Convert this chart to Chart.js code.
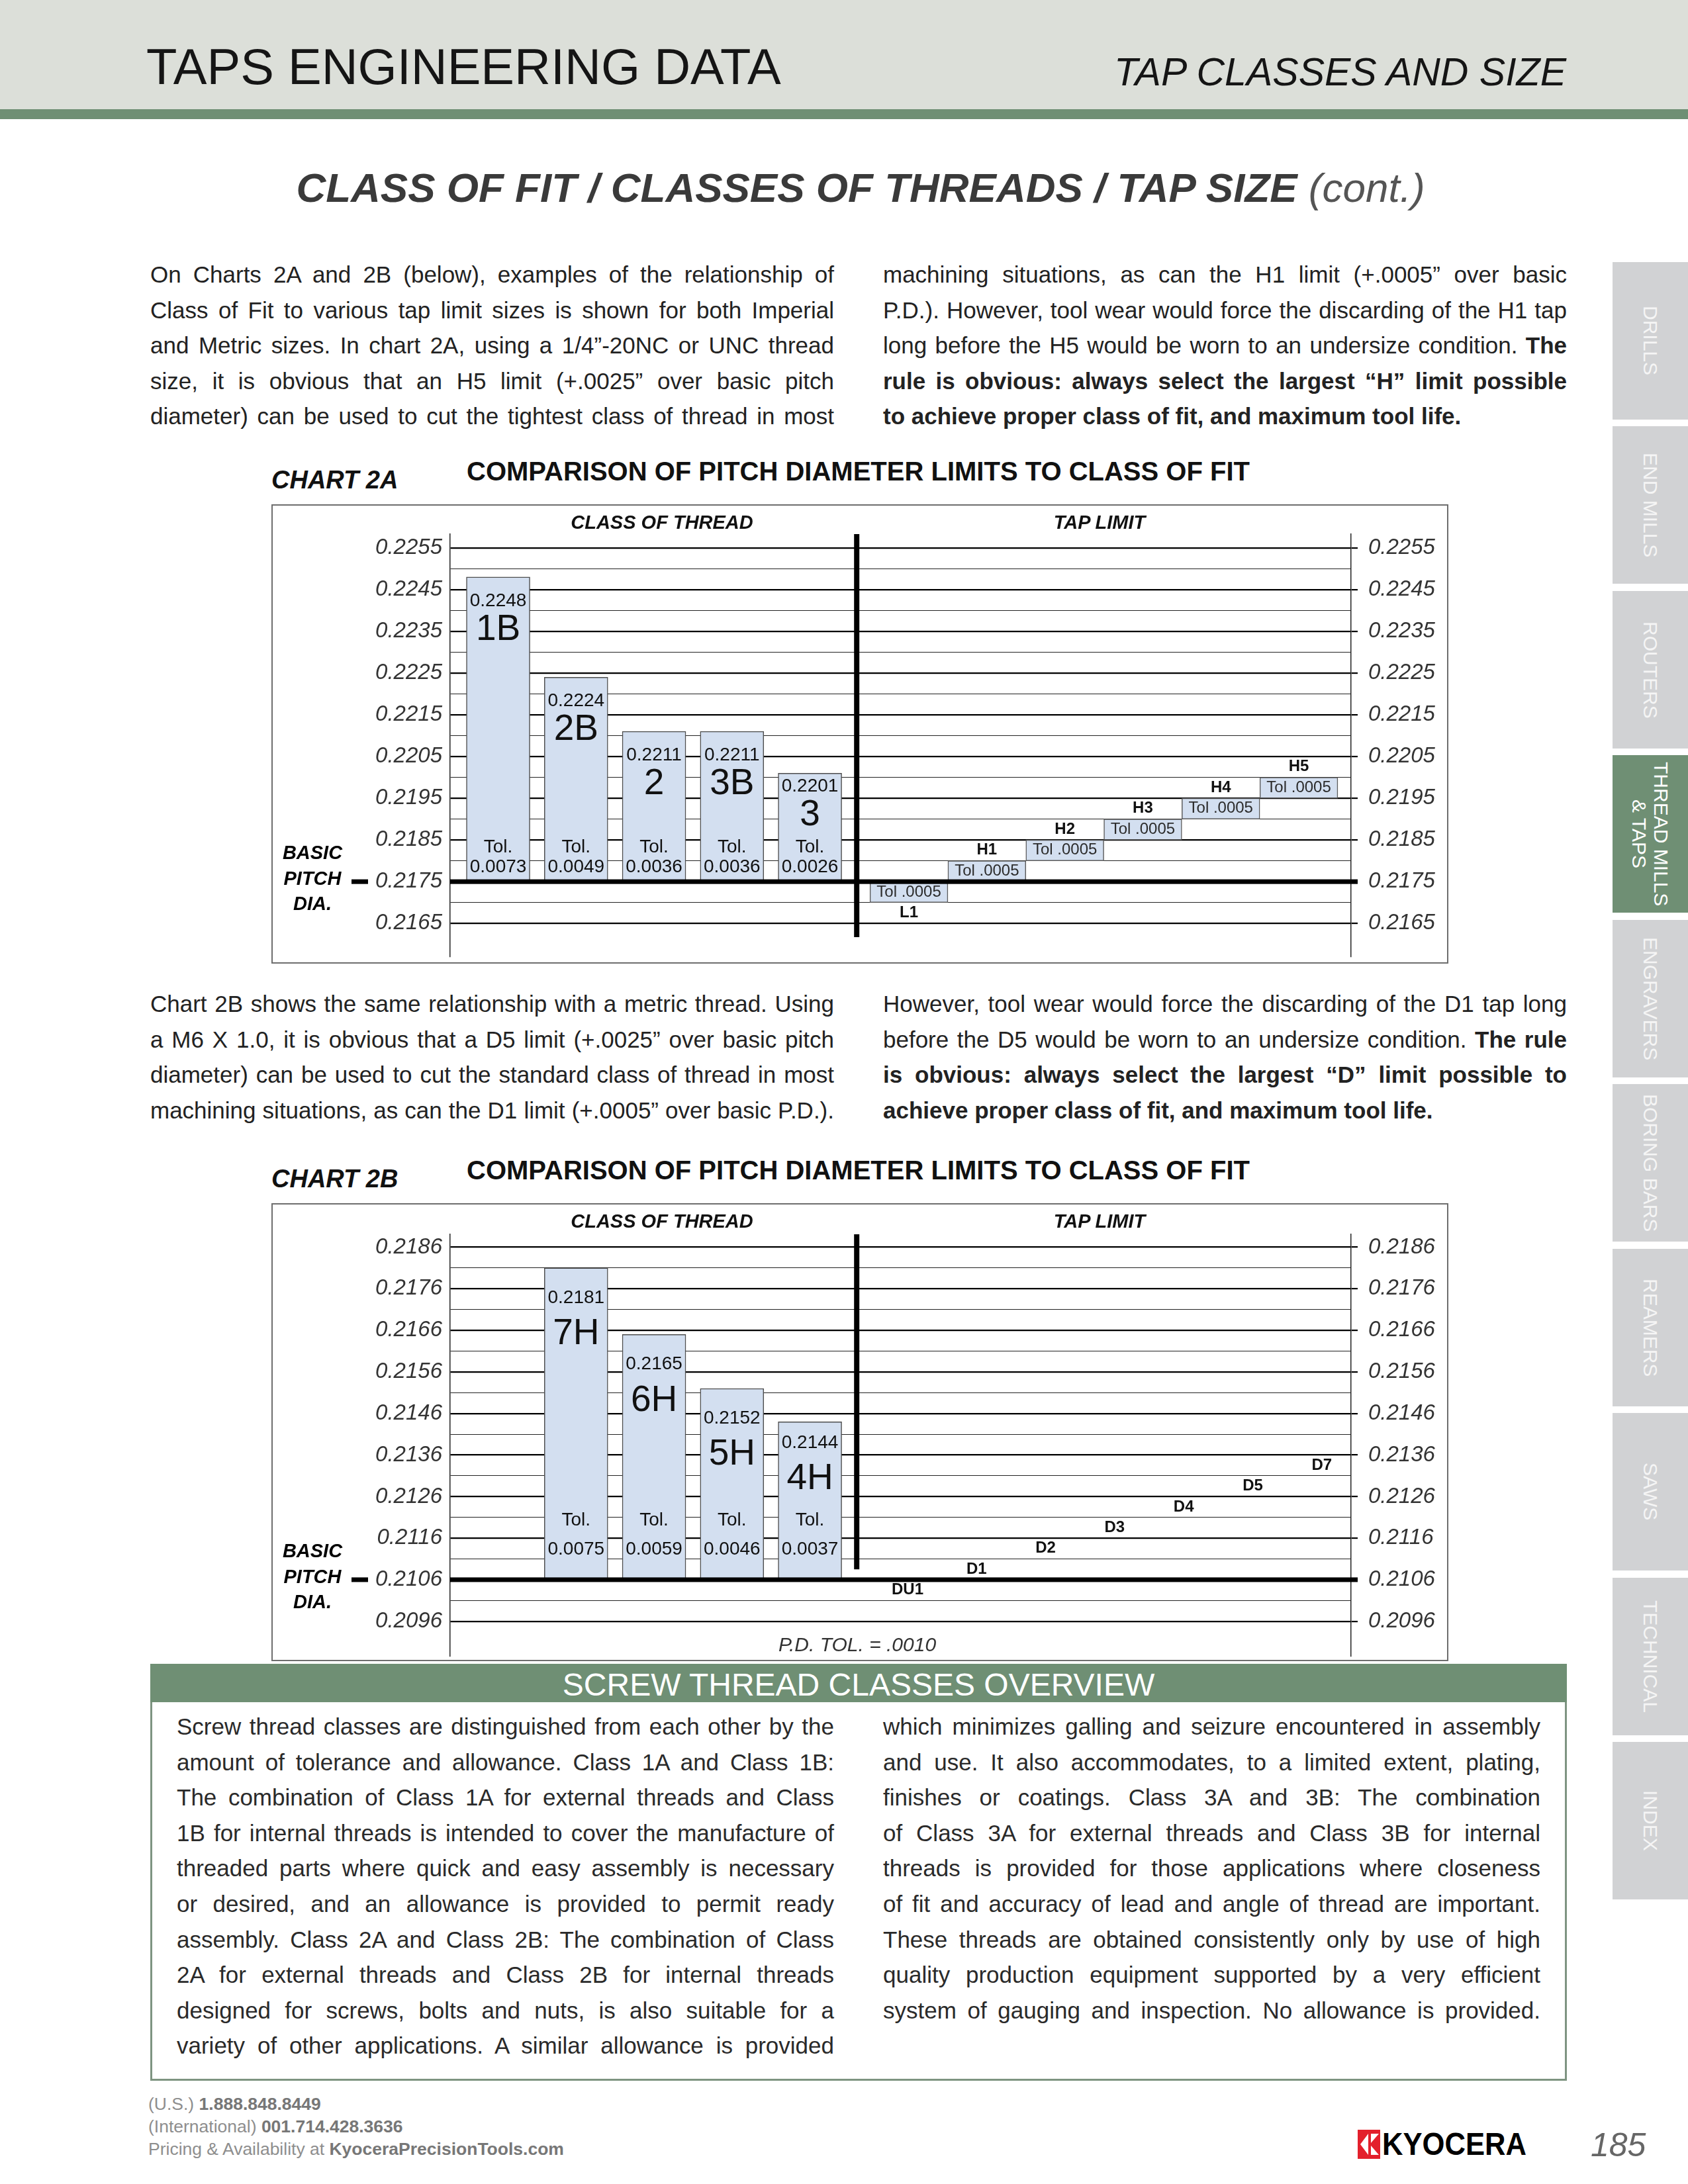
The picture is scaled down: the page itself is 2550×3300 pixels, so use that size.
<!DOCTYPE html>
<html>
<head>
<meta charset="utf-8">
<title>Taps Engineering Data - Tap Classes and Size</title>
<script src="https://cdn.jsdelivr.net/npm/chart.js@4.4.1/dist/chart.umd.min.js"></script>
<style>
  html, body { margin: 0; padding: 0; }
  body { position: relative; width: 2550px; height: 3300px; overflow: hidden; background: #fff;
         font-family: "Liberation Sans", Arial, sans-serif; color: #222; }
  .abs { position: absolute; line-height: 1; white-space: nowrap; }
  .col { position: absolute; width: 1033px; font-size: 35px; line-height: 53.6px; color: #222; }
  .col div { white-space: nowrap; }
  .ov { width: 993px; color: #2a2a2a; }
  .tab { position: absolute; left: 2436px; width: 114px; height: 238px; background: #d1d2d4; color: #f5f5f5;
         display: flex; align-items: center; justify-content: center; writing-mode: vertical-rl;
         font-size: 30px; line-height: 33px; text-align: center; }
  .tab.on { background: #6f8f74; color: #fff; }
  .cbox { position: absolute; box-sizing: border-box; border: 2px solid #6e6e6e; }
  .ctitle { font-size: 38px; font-weight: bold; font-style: italic; color: #111; }
  .chead { font-size: 40px; font-weight: bold; color: #111; }
  .side { width: 400px; text-align: center; font-size: 29px; font-weight: bold; font-style: italic; color: #111; }
  .foot { font-size: 26.5px; color: #8e8e8e; }
  .foot b { color: #777; }
  canvas { position: absolute; }
</style>
</head>
<body>

<!-- page header -->
<div class="abs" style="left:0;top:0;width:2550px;height:165px;background:#dcdfd9"></div>
<div class="abs" style="left:0;top:165px;width:2550px;height:15px;background:#6f8f74"></div>
<div class="abs" style="left:221px;top:63px;font-size:76px;color:#151515">TAPS ENGINEERING DATA</div>
<div class="abs" style="right:184px;top:80px;font-size:59px;font-style:italic;color:#151515">TAP CLASSES AND SIZE</div>
<div class="abs" style="left:300px;width:2000px;text-align:center;top:253px;font-size:62px;font-style:italic;font-weight:bold;color:#3a3a3a">CLASS OF FIT / CLASSES OF THREADS / TAP SIZE <span style="font-weight:normal;color:#555">(cont.)</span></div>

<!-- intro paragraph -->
<div class="col" style="left:227px;top:388px">
  <div class="jl"><span>On Charts 2A and 2B (below), examples of the relationship of</span></div>
  <div class="jl"><span>Class of Fit to various tap limit sizes is shown for both Imperial</span></div>
  <div class="jl"><span>and Metric sizes. In chart 2A, using a 1/4”-20NC or UNC thread</span></div>
  <div class="jl"><span>size, it is obvious that an H5 limit (+.0025” over basic pitch</span></div>
  <div class="jl"><span>diameter) can be used to cut the tightest class of thread in most</span></div>
</div>
<div class="col" style="left:1334px;top:388px">
  <div class="jl"><span>machining situations, as can the H1 limit (+.0005” over basic</span></div>
  <div class="jl"><span>P.D.). However, tool wear would force the discarding of the H1 tap</span></div>
  <div class="jl"><span>long before the H5 would be worn to an undersize condition. <b>The</b></span></div>
  <div class="jl"><span><b>rule is obvious: always select the largest “H” limit possible</b></span></div>
  <div><span><b>to achieve proper class of fit, and maximum tool life.</b></span></div>
</div>

<!-- chart 2A -->
<div class="abs ctitle" style="left:410px;top:706px">CHART 2A</div>
<div class="abs chead" style="left:705px;top:692px">COMPARISON OF PITCH DIAMETER LIMITS TO CLASS OF FIT</div>
<div class="cbox" style="left:410px;top:762px;width:1778px;height:694px"></div>
<canvas id="chart2a" width="1778" height="694" style="left:410px;top:762px"></canvas>
<div class="abs side" style="left:800px;top:775px">CLASS OF THREAD</div>
<div class="abs side" style="left:1461px;top:775px">TAP LIMIT</div>

<!-- second paragraph -->
<div class="col" style="left:227px;top:1490px">
  <div class="jl"><span>Chart 2B shows the same relationship with a metric thread. Using</span></div>
  <div class="jl"><span>a M6 X 1.0, it is obvious that a D5 limit (+.0025” over basic pitch</span></div>
  <div class="jl"><span>diameter) can be used to cut the standard class of thread in most</span></div>
  <div class="jl"><span>machining situations, as can the D1 limit  (+.0005” over basic P.D.).</span></div>
</div>
<div class="col" style="left:1334px;top:1490px">
  <div class="jl"><span>However, tool wear would force the discarding of the D1 tap long</span></div>
  <div class="jl"><span>before the D5 would be worn to an undersize condition. <b>The rule</b></span></div>
  <div class="jl"><span><b>is obvious: always select the largest “D” limit possible to</b></span></div>
  <div><span><b>achieve proper class of fit, and maximum tool life.</b></span></div>
</div>

<!-- chart 2B -->
<div class="abs ctitle" style="left:410px;top:1762px">CHART 2B</div>
<div class="abs chead" style="left:705px;top:1748px">COMPARISON OF PITCH DIAMETER LIMITS TO CLASS OF FIT</div>
<div class="cbox" style="left:410px;top:1818px;width:1778px;height:692px"></div>
<canvas id="chart2b" width="1778" height="692" style="left:410px;top:1818px"></canvas>
<div class="abs side" style="left:800px;top:1831px">CLASS OF THREAD</div>
<div class="abs side" style="left:1461px;top:1831px">TAP LIMIT</div>
<div class="abs" style="left:1095px;width:400px;text-align:center;top:2470px;font-size:30px;font-style:italic;color:#333">P.D. TOL. = .0010</div>

<!-- overview -->
<div class="abs" style="left:227px;top:2514px;width:2140px;height:58px;background:#6f8f74"></div>
<div class="abs" style="left:227px;top:2522px;width:2140px;text-align:center;font-size:48px;color:#fff">SCREW THREAD CLASSES OVERVIEW</div>
<div class="abs" style="left:227px;top:2572px;width:2134px;height:569px;border:3px solid #7e9481;border-top:none"></div>
<div class="col ov" style="left:267px;top:2582px">
  <div class="jl"><span>Screw thread classes are distinguished from each other by the</span></div>
  <div class="jl"><span>amount of tolerance and allowance. Class 1A and Class 1B:</span></div>
  <div class="jl"><span>The combination of Class 1A for external threads and Class</span></div>
  <div class="jl"><span>1B for internal threads is intended to cover the manufacture of</span></div>
  <div class="jl"><span>threaded parts where quick and easy assembly is necessary</span></div>
  <div class="jl"><span>or desired, and an allowance is provided to permit ready</span></div>
  <div class="jl"><span>assembly. Class 2A and Class 2B: The combination of Class</span></div>
  <div class="jl"><span>2A for external threads and Class 2B for internal threads</span></div>
  <div class="jl"><span>designed for screws, bolts and nuts, is also suitable for a</span></div>
  <div class="jl"><span>variety of other applications. A similar allowance is provided</span></div>
</div>
<div class="col ov" style="left:1334px;top:2582px">
  <div class="jl"><span>which minimizes galling and seizure encountered in assembly</span></div>
  <div class="jl"><span>and use. It also accommodates, to a limited extent, plating,</span></div>
  <div class="jl"><span>finishes or coatings. Class 3A and 3B: The combination</span></div>
  <div class="jl"><span>of Class 3A for external threads and Class 3B for internal</span></div>
  <div class="jl"><span>threads is provided for those applications where closeness</span></div>
  <div class="jl"><span>of fit and accuracy of lead and angle of thread are important.</span></div>
  <div class="jl"><span>These threads are obtained consistently only by use of high</span></div>
  <div class="jl"><span>quality production equipment supported by a very efficient</span></div>
  <div class="jl"><span>system of gauging and inspection. No allowance is provided.</span></div>
</div>

<!-- footer -->
<div class="abs foot" style="left:224px;top:3166px">(U.S.) <b>1.888.848.8449</b></div>
<div class="abs foot" style="left:224px;top:3200px">(International) <b>001.714.428.3636</b></div>
<div class="abs foot" style="left:224px;top:3234px">Pricing &amp; Availability at <b>KyoceraPrecisionTools.com</b></div>
<svg class="abs" style="left:2051px;top:3212px" width="36" height="56" viewBox="0 0 36 56">
  <rect x="0" y="6" width="34" height="44" fill="#e3202c"/>
  <polygon points="4,28 16,12 16,44" fill="#fff"/>
  <polygon points="20,12 32,12 20,26" fill="#fff"/>
  <polygon points="20,30 32,44 20,44" fill="#fff"/>
</svg>
<div class="abs" style="left:2088px;top:3215px;font-size:49px;font-weight:bold;color:#000;transform:scaleX(0.89);transform-origin:left top">KYOCERA</div>
<div class="abs" style="left:2403px;top:3216px;font-size:50px;font-style:italic;color:#666">185</div>

<!-- side tabs -->
<div class="tab" style="top:396px"><span>DRILLS</span></div>
<div class="tab" style="top:644px"><span>END MILLS</span></div>
<div class="tab" style="top:893px"><span>ROUTERS</span></div>
<div class="tab on" style="top:1141px"><span>THREAD MILLS<br>&amp; TAPS</span></div>
<div class="tab" style="top:1390px"><span>ENGRAVERS</span></div>
<div class="tab" style="top:1638px"><span>BORING BARS</span></div>
<div class="tab" style="top:1887px"><span>REAMERS</span></div>
<div class="tab" style="top:2135px"><span>SAWS</span></div>
<div class="tab" style="top:2384px"><span>TECHNICAL</span></div>
<div class="tab" style="top:2632px"><span>INDEX</span></div>

<script>
// Chart 2A - 1/4"-20 UNC, imperial
const classNames2A = ['1B', '2B', '2', '3B', '3'];
const classTop2A = [0.2248, 0.2224, 0.2211, 0.2211, 0.2201];
const classTol2A = ['0.0073', '0.0049', '0.0036', '0.0036', '0.0026'];
const basic2A = 0.2175;
const tapNames2A = ['L1', 'H1', 'H2', 'H3', 'H4', 'H5'];
const tapLow2A = [0.2170, 0.2175, 0.2180, 0.2185, 0.2190, 0.2195];
const tapHigh2A = [0.2175, 0.2180, 0.2185, 0.2190, 0.2195, 0.2200];
const tapTol2A = ['Tol .0005', 'Tol .0005', 'Tol .0005', 'Tol .0005', 'Tol .0005', 'Tol .0005'];
const tickLabels2A = ['0.2165', '0.2175', '0.2185', '0.2195', '0.2205', '0.2215', '0.2225', '0.2235', '0.2245', '0.2255'];

// Chart 2B - M6 x 1.0, metric
const classNames2B = ['7H', '6H', '5H', '4H'];
const classTop2B = [0.2181, 0.2165, 0.2152, 0.2144];
const classTol2B = ['0.0075', '0.0059', '0.0046', '0.0037'];
const basic2B = 0.2106;
const tapNames2B = ['DU1', 'D1', 'D2', 'D3', 'D4', 'D5', 'D7'];
const tapLow2B = [0.2101, 0.2106, 0.2111, 0.2116, 0.2121, 0.2126, 0.2131];
const tapHigh2B = [0.2106, 0.2111, 0.2116, 0.2121, 0.2126, 0.2131, 0.2136];
const tickLabels2B = ['0.2096', '0.2106', '0.2116', '0.2126', '0.2136', '0.2146', '0.2156', '0.2166', '0.2176', '0.2186'];

const BAR_FILL = '#d3dff0';
const FONT = '"Liberation Sans", Arial, sans-serif';

// major ticks from the labels, a thin line half way between each pair
function buildTicks(labels) {
  const vals = labels.map(Number);
  const out = [];
  vals.forEach((v, i) => {
    out.push({ value: v, major: true, text: labels[i] });
    if (i < vals.length - 1) out.push({ value: (v + vals[i + 1]) / 2, major: false, text: '' });
  });
  return out;
}

function yAxis(position, c) {
  const left = position === 'left';
  return {
    type: 'linear',
    position: position,
    stacked: false,
    min: c.yMin,
    max: c.yMax,
    afterBuildTicks: (s) => { s.ticks = buildTicks(c.tickLabels); },
    afterFit: (s) => {
      s.width = left ? 270 : 147;
      s.paddingTop = 0;
      s.paddingBottom = 0;
    },
    ticks: {
      autoSkip: false,
      padding: left ? 12 : 16,
      color: '#333',
      font: { family: 'Liberation Sans', size: 33, style: 'italic' },
      callback: (v, i, ticks) => ticks[i].text
    },
    grid: {
      drawOnChartArea: left,
      drawTicks: !left,
      tickLength: 10,
      color: (ctx) => (ctx.tick && ctx.tick.major ? '#000' : '#222'),
      lineWidth: (ctx) => (ctx.tick && ctx.tick.major ? 2.2 : 1.1),
      tickColor: (ctx) => (ctx.tick && ctx.tick.major ? '#000' : 'rgba(0,0,0,0)'),
      tickWidth: 2.2
    },
    border: { display: true, color: '#222', width: 1.5 }
  };
}

const pitchPlugin = {
  id: 'pitchChart',
  afterDatasetsDraw(chart, args, o) {
    const { ctx, chartArea: area, scales } = chart;
    const y = scales.y;
    const by = y.getPixelForValue(o.basic);
    ctx.save();
    ctx.fillStyle = '#000';

    // divider between class of thread and tap limit
    const dx = scales.xc.getPixelForValue(o.dividerAt);
    const dBottom = y.getPixelForValue(o.dividerEnd);
    ctx.fillRect(dx - 4, area.top, 8, dBottom - area.top);

    // basic pitch diameter line
    ctx.fillRect(area.left, by - 3.5, area.right - area.left + 10, 7);
    ctx.fillRect(area.left - 149, by - 3.5, 25, 7);
    ctx.font = 'italic bold 29px ' + FONT;
    ctx.textAlign = 'center';
    ctx.textBaseline = 'alphabetic';
    ctx.fillText('BASIC', area.left - 208, by - 34);
    ctx.fillText('PITCH', area.left - 208, by + 5);
    ctx.fillText('DIA.', area.left - 208, by + 43);

    // labels inside the class of thread bars
    ctx.textBaseline = 'middle';
    ctx.fillStyle = '#111';
    const L = o.labels;
    const clsDs = chart.data.datasets[0];
    chart.getDatasetMeta(0).data.forEach((bar, i) => {
      const p = bar.getProps(['x', 'y', 'base'], true);
      const top = Math.min(p.y, p.base);
      const bottom = Math.max(p.y, p.base);
      const nameY = Math.min(top + L.nameDrop, bottom - L.nameLift);
      ctx.font = '28px ' + FONT;
      ctx.fillText(clsDs.data[i].y[1].toFixed(4), p.x, nameY - L.valueGap);
      ctx.font = '55px ' + FONT;
      ctx.fillText(clsDs.names[i], p.x, nameY);
      ctx.font = '28px ' + FONT;
      ctx.fillText('Tol.', p.x, bottom - L.tolLift);
      ctx.fillText(clsDs.tols[i], p.x, bottom - L.tolValLift);
    });

    // tap limit labels
    const tapDs = chart.data.datasets[1];
    chart.getDatasetMeta(1).data.forEach((bar, i) => {
      const p = bar.getProps(['x', 'y', 'base'], true);
      const top = Math.min(p.y, p.base);
      const bottom = Math.max(p.y, p.base);
      if (tapDs.boxText) {
        ctx.font = '24px ' + FONT;
        ctx.fillStyle = '#2c2c2c';
        ctx.fillText(tapDs.boxText[i], p.x, (top + bottom) / 2);
        const below = tapDs.data[i].y[1] <= o.basic;
        ctx.font = 'bold 24px ' + FONT;
        ctx.fillStyle = '#111';
        ctx.fillText(tapDs.names[i], p.x, below ? bottom + o.tapNameGap : top - o.tapNameGap);
      } else {
        ctx.font = 'bold 24px ' + FONT;
        ctx.fillStyle = '#111';
        ctx.fillText(tapDs.names[i], p.x, (top + bottom) / 2);
      }
    });
    ctx.restore();
  }
};

function makeChart(id, c) {
  return new Chart(document.getElementById(id), {
    type: 'bar',
    data: {
      datasets: [
        {
          xAxisID: 'xc',
          yAxisID: 'y',
          grouped: false,
          data: c.classNames.map((n, i) => ({ x: i + c.slotOffset, y: [c.basic, c.classTop[i]] })),
          names: c.classNames,
          tols: c.classTol,
          backgroundColor: BAR_FILL,
          borderColor: '#4d4d4d',
          borderWidth: 1.5,
          borderSkipped: false,
          barThickness: 96
        },
        {
          xAxisID: 'xt',
          yAxisID: 'y',
          grouped: false,
          data: c.tapNames.map((n, i) => ({ x: i, y: [c.tapLow[i], c.tapHigh[i]] })),
          names: c.tapNames,
          boxText: c.tapTol,
          backgroundColor: c.tapTol ? BAR_FILL : 'rgba(0,0,0,0)',
          borderColor: '#5a5a5a',
          borderWidth: c.tapTol ? 1.5 : 0,
          borderSkipped: false,
          barThickness: c.tapWidth
        }
      ]
    },
    options: {
      responsive: false,
      animation: false,
      devicePixelRatio: 1,
      events: [],
      layout: { padding: { top: c.padTop, bottom: c.padBottom, left: 0, right: 0 } },
      plugins: {
        legend: { display: false },
        tooltip: { enabled: false },
        pitchChart: {
          basic: c.basic,
          dividerAt: 4.6,
          dividerEnd: c.dividerEnd,
          labels: c.labels,
          tapNameGap: 16
        }
      },
      scales: {
        xc: { type: 'linear', display: false, offset: false, min: c.xcRange[0], max: c.xcRange[1], grid: { offset: false } },
        xt: { type: 'linear', display: false, offset: false, min: c.xtRange[0], max: c.xtRange[1], grid: { offset: false } },
        y: yAxis('left', c),
        y2: yAxis('right', c)
      }
    },
    plugins: [pitchPlugin]
  });
}

makeChart('chart2a', {
  classNames: classNames2A, classTop: classTop2A, classTol: classTol2A, slotOffset: 0,
  basic: basic2A,
  tapNames: tapNames2A, tapLow: tapLow2A, tapHigh: tapHigh2A, tapTol: tapTol2A, tapWidth: 117.8,
  tickLabels: tickLabels2A, yMin: 0.21571, yMax: 0.22583,
  xcRange: [-0.616, 10.942], xtRange: [-5.883, 5.670],
  padTop: 45, padBottom: 11, dividerEnd: 0.21617,
  labels: { nameDrop: 80, nameLift: 100, valueGap: 44, tolLift: 52, tolValLift: 22 }
});

makeChart('chart2b', {
  classNames: classNames2B, classTop: classTop2B, classTol: classTol2B, slotOffset: 1,
  basic: basic2B,
  tapNames: tapNames2B, tapLow: tapLow2B, tapHigh: tapHigh2B, tapTol: null, tapWidth: 60,
  tickLabels: tickLabels2B, yMin: 0.20876, yMax: 0.21891,
  xcRange: [-0.616, 10.942], xtRange: [-6.625, 6.424],
  padTop: 47, padBottom: 7.5, dividerEnd: 0.21085,
  labels: { nameDrop: 100, nameLift: 152, valueGap: 55, tolLift: 90, tolValLift: 46 }
});

// spread justified lines to the column width, squeeze the ones that are too long
document.querySelectorAll('.jl').forEach((line) => {
  const span = line.firstElementChild;
  const target = line.clientWidth;
  const text = span.textContent.trim();
  let w = span.getBoundingClientRect().width;
  if (w > target) {
    span.style.letterSpacing = ((target - w) / text.length).toFixed(3) + 'px';
    w = span.getBoundingClientRect().width;
  }
  const gaps = text.split(/\s+/).length - 1;
  if (gaps > 0) span.style.wordSpacing = ((target - w) / gaps).toFixed(3) + 'px';
});
</script>
</body>
</html>
